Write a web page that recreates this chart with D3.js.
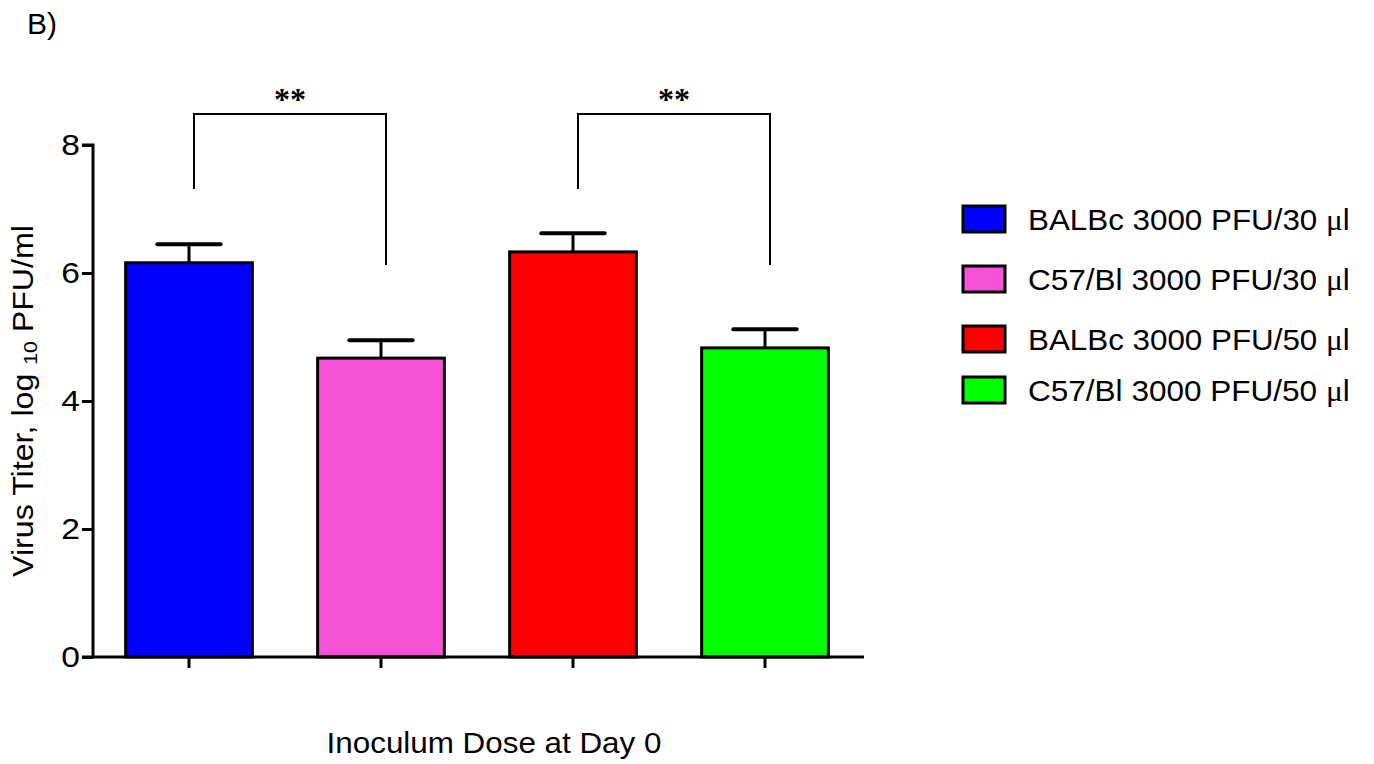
<!DOCTYPE html>
<html><head><meta charset="utf-8">
<script src="https://cdn.jsdelivr.net/npm/d3@7"></script>
<style>body{margin:0;background:#fff}svg{display:block}text{font-family:"Liberation Sans",Arial,sans-serif;fill:#000}</style>
</head><body>
<svg id="c" width="1374" height="764"></svg>
<script>
const categories = ["BALBc 3000 PFU/30", "C57/Bl 3000 PFU/30", "BALBc 3000 PFU/50", "C57/Bl 3000 PFU/50"];
const means = [6.16, 4.67, 6.33, 4.83];
const sems = [0.29, 0.28, 0.29, 0.29];
const colors = ["#0000ff", "#f652d8", "#ff0000", "#00ff00"];
const yTicks = [0, 2, 4, 6, 8];
const comparisons = [[0, 1, "**"], [2, 3, "**"]];

const svg = d3.select("#c");
const y = d3.scaleLinear().domain([0, 8]).range([657, 145]);
const x = d3.scaleBand().domain(categories).range([93, 861]).paddingInner(0.34).paddingOuter(0.17);

// stretch a text element horizontally (around its anchor) to a target width
function fitWidth(sel, w, ax, ay, rot) {
  const n = sel.node();
  const len = n.getComputedTextLength();
  const s = w / len;
  sel.attr("transform", `translate(${ax},${ay})${rot ? " rotate(" + rot + ")" : ""} scale(${s},1)`);
}

// bars
svg.selectAll("rect.bar").data(categories).join("rect")
  .attr("x", d => x(d)).attr("y", (d, i) => y(means[i]))
  .attr("width", x.bandwidth()).attr("height", (d, i) => y(0) - y(means[i]))
  .attr("fill", (d, i) => colors[i]).attr("stroke", "#000").attr("stroke-width", 3);

// error bars
const capW = x.bandwidth() / 2;
categories.forEach((d, i) => {
  const cx = x(d) + x.bandwidth() / 2;
  svg.append("line").attr("x1", cx).attr("x2", cx).attr("y1", y(means[i])).attr("y2", y(means[i] + sems[i]))
    .attr("stroke", "#000").attr("stroke-width", 3);
  svg.append("line").attr("x1", cx - capW / 2).attr("x2", cx + capW / 2).attr("y1", y(means[i] + sems[i])).attr("y2", y(means[i] + sems[i]))
    .attr("stroke", "#000").attr("stroke-width", 4).attr("stroke-linecap", "round");
});

// y axis
const yAxis = svg.append("g").attr("transform", "translate(93,0)")
  .call(d3.axisLeft(y).tickValues(yTicks).tickSize(11).tickPadding(3));
yAxis.select(".domain").attr("d", `M-11,${y(8)}H0V${y(0)}`).attr("stroke-width", 3);
yAxis.selectAll(".tick line").attr("stroke-width", 3);
yAxis.selectAll(".tick text").style("font-size", "30px").attr("x", 0)
  .attr("transform", "translate(-13,0) scale(1.12,1)");

// x axis
const xAxis = svg.append("g").attr("transform", `translate(0,${y(0)})`)
  .call(d3.axisBottom(x).tickSize(11).tickFormat(""));
xAxis.select(".domain").attr("d", "M82,0H864").attr("stroke-width", 3);
xAxis.selectAll(".tick line").attr("stroke-width", 3);

// significance brackets
comparisons.forEach(([a, b, lab]) => {
  const xa = x(categories[a]) + x.bandwidth() / 2 + 5;
  const xb = x(categories[b]) + x.bandwidth() / 2 + 5;
  const top = 114;
  svg.append("path").attr("d", `M${xa},189V${top}H${xb}V265`)
    .attr("fill", "none").attr("stroke", "#000").attr("stroke-width", 2);
  svg.append("text").attr("x", (xa + xb) / 2).attr("y", 110).attr("text-anchor", "middle")
    .style("font-family", "Liberation Serif, Times New Roman, serif").style("font-size", "32px").style("font-weight", "bold").text(lab);
});

// legend
const legY = [219, 279, 339, 390];
categories.forEach((d, i) => {
  svg.append("rect").attr("x", 963).attr("y", legY[i] - 13).attr("width", 42).attr("height", 26)
    .attr("fill", colors[i]).attr("stroke", "#000").attr("stroke-width", 3);
  const t = svg.append("text").style("font-size", "29px");
  t.append("tspan").text(d + " ");
  t.append("tspan").style("font-family", "Liberation Serif, Times New Roman, serif").text("\u03bc");
  t.append("tspan").text("l");
  fitWidth(t, 322, 1028, legY[i] + 11);
});

// axis titles
const yt = svg.append("text").attr("text-anchor", "middle").style("font-size", "29px");
yt.append("tspan").text("Virus Titer, log ");
yt.append("tspan").style("font-size", "19px").attr("dy", 4).text("10");
yt.append("tspan").attr("dy", -4).text(" PFU/ml");
fitWidth(yt, 352, 33, 401, -90);

const xt = svg.append("text").attr("text-anchor", "middle").style("font-size", "29px").text("Inoculum Dose at Day 0");
fitWidth(xt, 335, 494, 753);

const bt = svg.append("text").style("font-size", "30px").text("B)");
fitWidth(bt, 30, 27, 34);
</script>
</body></html>
